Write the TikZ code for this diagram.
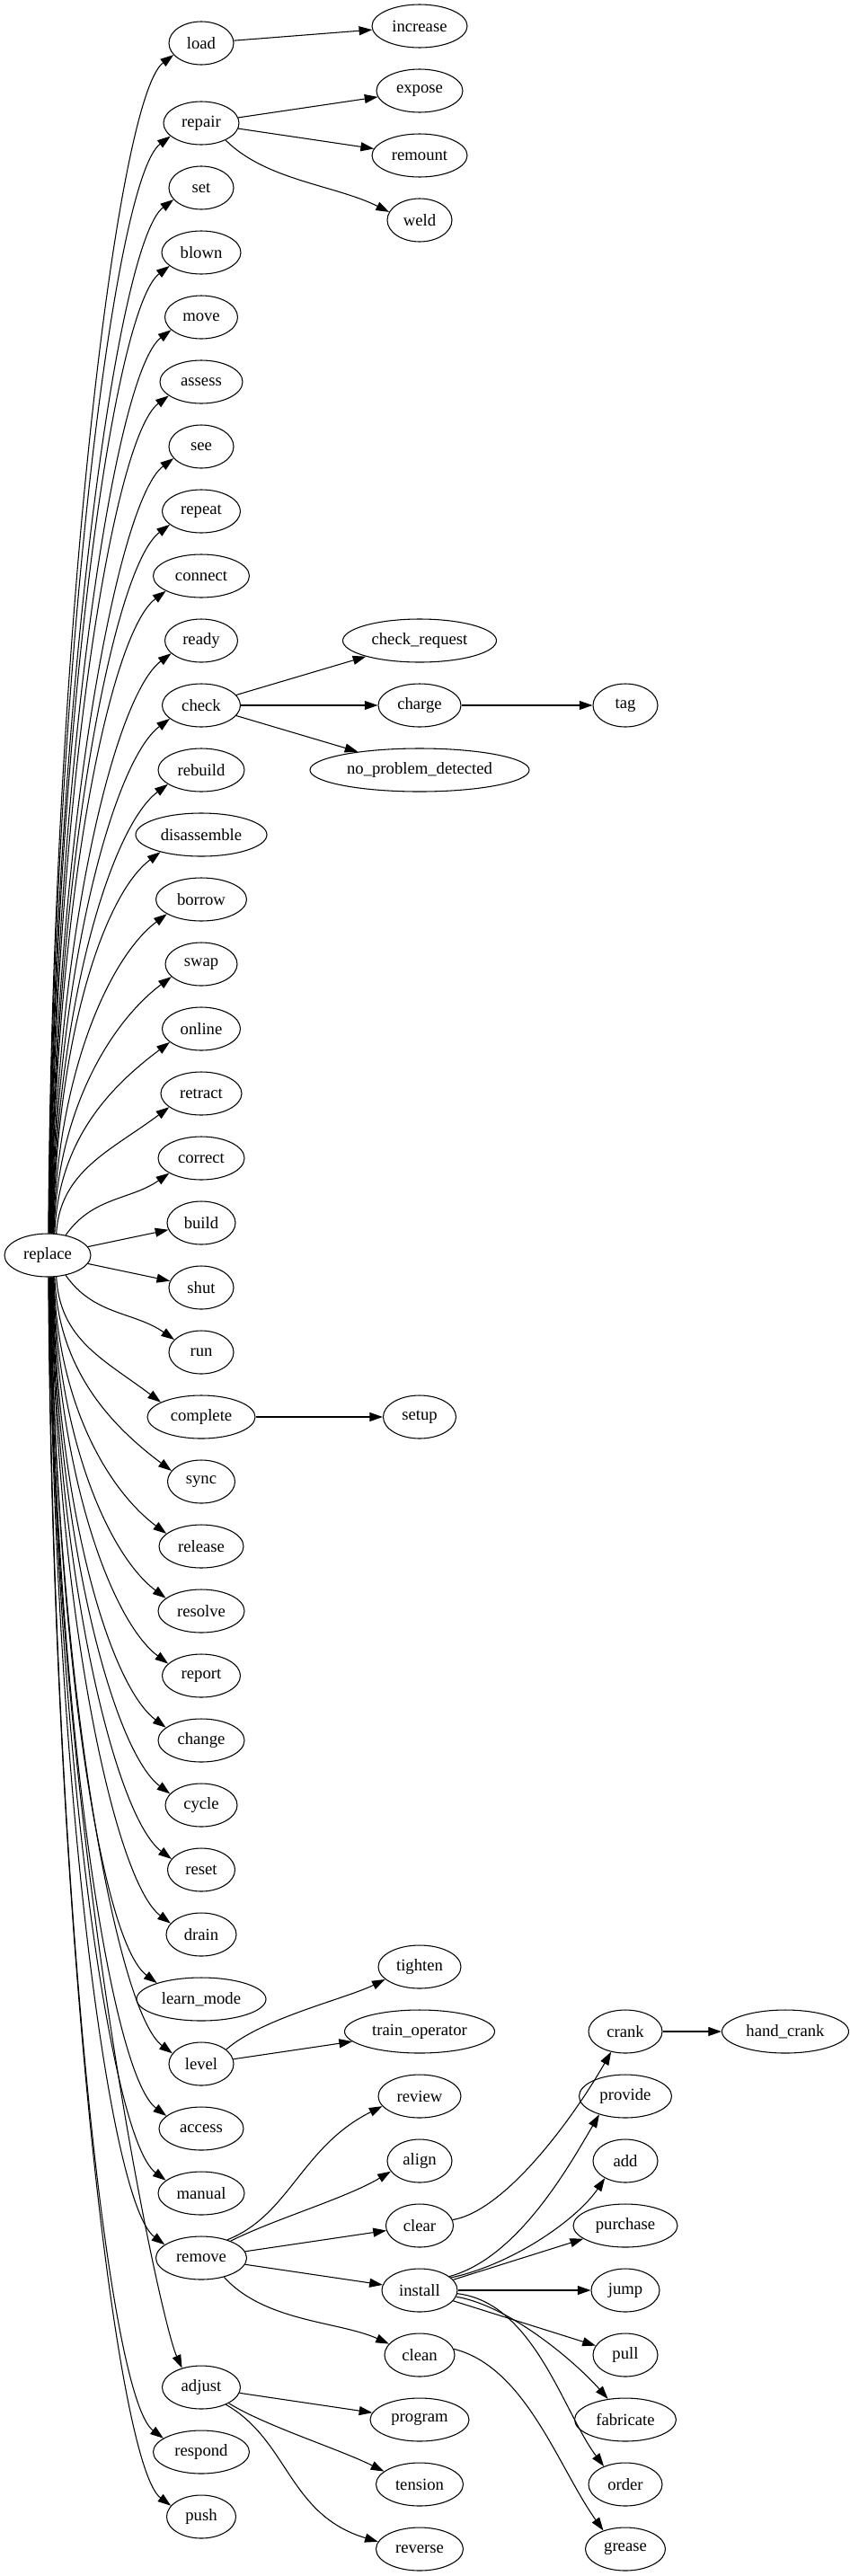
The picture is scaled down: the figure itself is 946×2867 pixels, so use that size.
\documentclass[tikz,border=0pt]{standalone}
\usepackage{fontspec}
\setmainfont{Liberation Serif}
\usetikzlibrary{shapes.geometric,arrows.meta}
\begin{document}
\begin{tikzpicture}[x=0.75pt,y=0.75pt,
  nd/.style={draw, ellipse, inner sep=0pt, minimum height=36pt, minimum width={#1*0.75pt}, font=\fontsize{14}{16}\selectfont, line width=0.8pt},
  ed/.style={draw, line width=0.8pt, -{Triangle[length=11pt,width=7.5pt]}}]
\useasboundingbox (0,0) rectangle (946,-2867);
% root
\node[nd=96] (replace) at (53,-1397) {replace};
% level 1
\node[nd=72] (load) at (224,-48) {load};
\node[nd=84] (repair) at (224,-137) {repair};
\node[nd=72] (set) at (224,-209) {set};
\node[nd=88] (blown) at (224,-281) {blown};
\node[nd=81] (move) at (224,-353) {move};
\node[nd=92] (assess) at (224,-425) {assess};
\node[nd=72] (see) at (224,-497) {see};
\node[nd=87] (repeat) at (224,-569) {repeat};
\node[nd=107] (connect) at (224,-641) {connect};
\node[nd=81] (ready) at (224,-713) {ready};
\node[nd=87] (check) at (224,-785) {check};
\node[nd=96] (rebuild) at (224,-857) {rebuild};
\node[nd=146] (disassemble) at (224,-929) {disassemble};
\node[nd=101] (borrow) at (224,-1001) {borrow};
\node[nd=80] (swap) at (224,-1073) {swap};
\node[nd=87] (online) at (224,-1145) {online};
\node[nd=90] (retract) at (224,-1217) {retract};
\node[nd=96] (correct) at (224,-1289) {correct};
\node[nd=76] (build) at (224,-1361) {build};
\node[nd=72] (shut) at (224,-1433) {shut};
\node[nd=72] (run) at (224,-1505) {run};
\node[nd=120] (complete) at (224,-1577) {complete};
\node[nd=75] (sync) at (224,-1649) {sync};
\node[nd=94] (release) at (224,-1721) {release};
\node[nd=96] (resolve) at (224,-1793) {resolve};
\node[nd=87] (report) at (224,-1865) {report};
\node[nd=96] (change) at (224,-1937) {change};
\node[nd=80] (cycle) at (224,-2009) {cycle};
\node[nd=75] (reset) at (224,-2081) {reset};
\node[nd=78] (drain) at (224,-2153) {drain};
\node[nd=144] (learn_mode) at (224,-2225) {learn\_mode};
\node[nd=72] (level) at (224,-2297) {level};
\node[nd=94] (access) at (224,-2369) {access};
\node[nd=96] (manual) at (224,-2441) {manual};
\node[nd=101] (remove) at (224,-2513) {remove};
\node[nd=87] (adjust) at (224,-2657) {adjust};
\node[nd=107] (respond) at (224,-2729) {respond};
\node[nd=77] (push) at (224,-2801) {push};
% level 2
\node[nd=106] (increase) at (467,-29) {increase};
\node[nd=96] (expose) at (467,-101) {expose};
\node[nd=106] (remount) at (467,-173) {remount};
\node[nd=72] (weld) at (467,-245) {weld};
\node[nd=171] (check_request) at (467,-713) {check\_request};
\node[nd=92] (charge) at (467,-785) {charge};
\node[nd=244] (no_problem_detected) at (467,-857) {no\_problem\_detected};
\node[nd=81] (setup) at (467,-1577) {setup};
\node[nd=92] (tighten) at (467,-2189) {tighten};
\node[nd=167] (train_operator) at (467,-2261) {train\_operator};
\node[nd=92] (review) at (467,-2333) {review};
\node[nd=72] (align) at (467,-2405) {align};
\node[nd=75] (clear) at (467,-2477) {clear};
\node[nd=84] (install) at (467,-2549) {install};
\node[nd=78] (clean) at (467,-2621) {clean};
\node[nd=110] (program) at (467,-2693) {program};
\node[nd=97] (tension) at (467,-2765) {tension};
\node[nd=97] (reverse) at (467,-2837) {reverse};
% level 3
\node[nd=72] (tag) at (696,-785) {tag};
\node[nd=82] (crank) at (696,-2261) {crank};
\node[nd=103] (provide) at (696,-2333) {provide};
\node[nd=72] (add) at (696,-2405) {add};
\node[nd=116] (purchase) at (696,-2477) {purchase};
\node[nd=76] (jump) at (696,-2549) {jump};
\node[nd=72] (pull) at (696,-2621) {pull};
\node[nd=113] (fabricate) at (696,-2693) {fabricate};
\node[nd=82] (order) at (696,-2765) {order};
\node[nd=89] (grease) at (696,-2837) {grease};
\node[nd=141] (hand_crank) at (874,-2261) {hand\_crank};

% edges from replace, upward
\foreach \n/\a/\d in {load/88/1310, repair/87/1220, set/86/1150, blown/85/1075, move/84/1005,
  assess/83/930, see/82/860, repeat/81/790, connect/80/715, ready/79/645, check/78/570,
  rebuild/77/500, disassemble/76/430, borrow/75/355, swap/74/285, online/72/212, retract/68/140}
  \draw[ed] (replace.\a) .. controls +(4,{0.5*\d}) and +(-64,-48) .. (\n.203);
% downward
\foreach \n/\a/\d in {complete/-68/140, sync/-72/212, release/-74/285, resolve/-75/355,
  report/-76/430, change/-77/500, cycle/-78/570, reset/-79/645, drain/-80/715,
  learn_mode/-81/790, level/-82/860, access/-83/930, manual/-84/1005, remove/-85/1075,
  respond/-87/1290, push/-88/1360}
  \draw[ed] (replace.\a) .. controls +(4,{-0.5*\d}) and +(-64,48) .. (\n.160);
\draw[ed] (replace.-86) .. controls +(4,-610) and +(-25,55) .. (adjust.135);
\draw[ed] (replace.48) to[out=55,in=215] (correct.205);
\draw[ed] (replace.-48) to[out=-55,in=145] (run.155);
\draw[ed] (replace) -- (build);
\draw[ed] (replace) -- (shut);

% level 1 -> level 2
\draw[ed] (load) -- (increase);
\draw[ed] (repair) -- (expose);
\draw[ed] (repair) -- (remount);
\draw[ed] (repair.-35) .. controls +(45,-45) and +(-60,30) .. (weld.165);
\draw[ed] (check) -- (check_request);
\draw[ed] (check) -- (charge);
\draw[ed] (check) -- (no_problem_detected);
\draw[ed] (charge) -- (tag);
\draw[ed] (complete) -- (setup);
\draw[ed] (level.30) .. controls +(40,35) and +(-45,-22) .. (tighten.200);
\draw[ed] (level) -- (train_operator);
\draw[ed] (remove.35) .. controls +(69,27) and +(-90,-45) .. (review.195);
\draw[ed] (remove.30) .. controls +(50,25) and +(-50,-30) .. (align.200);
\draw[ed] (remove) -- (clear);
\draw[ed] (remove) -- (install);
\draw[ed] (remove.-40) .. controls +(45,-50) and +(-55,25) .. (clean.160);
\draw[ed] (adjust) -- (program);
\draw[ed] (adjust.-30) .. controls +(40,-25) and +(-50,25) .. (tension.160);
\draw[ed] (adjust.-35) .. controls +(70,-40) and +(-100,30) .. (reverse.170);
% level 2 -> level 3
\draw[ed] (clear.10) .. controls +(60,10) and +(-40,-70) .. (crank.235);
\draw[ed] (install.25) .. controls +(75,20) and +(-35,-60) .. (provide.215);
\draw[ed] (install.22) .. controls +(70,15) and +(-30,-45) .. (add.220);
\draw[ed] (install) -- (purchase);
\draw[ed] (install) -- (jump);
\draw[ed] (install) -- (pull);
\draw[ed] (install.-10) .. controls +(60,-10) and +(-35,40) .. (fabricate.130);
\draw[ed] (install.-5) .. controls +(85,-10) and +(-45,60) .. (order.140);
\draw[ed] (clean.10) .. controls +(80,-20) and +(-50,70) .. (grease.140);
\draw[ed] (crank) -- (hand_crank);
\end{tikzpicture}
\end{document}
